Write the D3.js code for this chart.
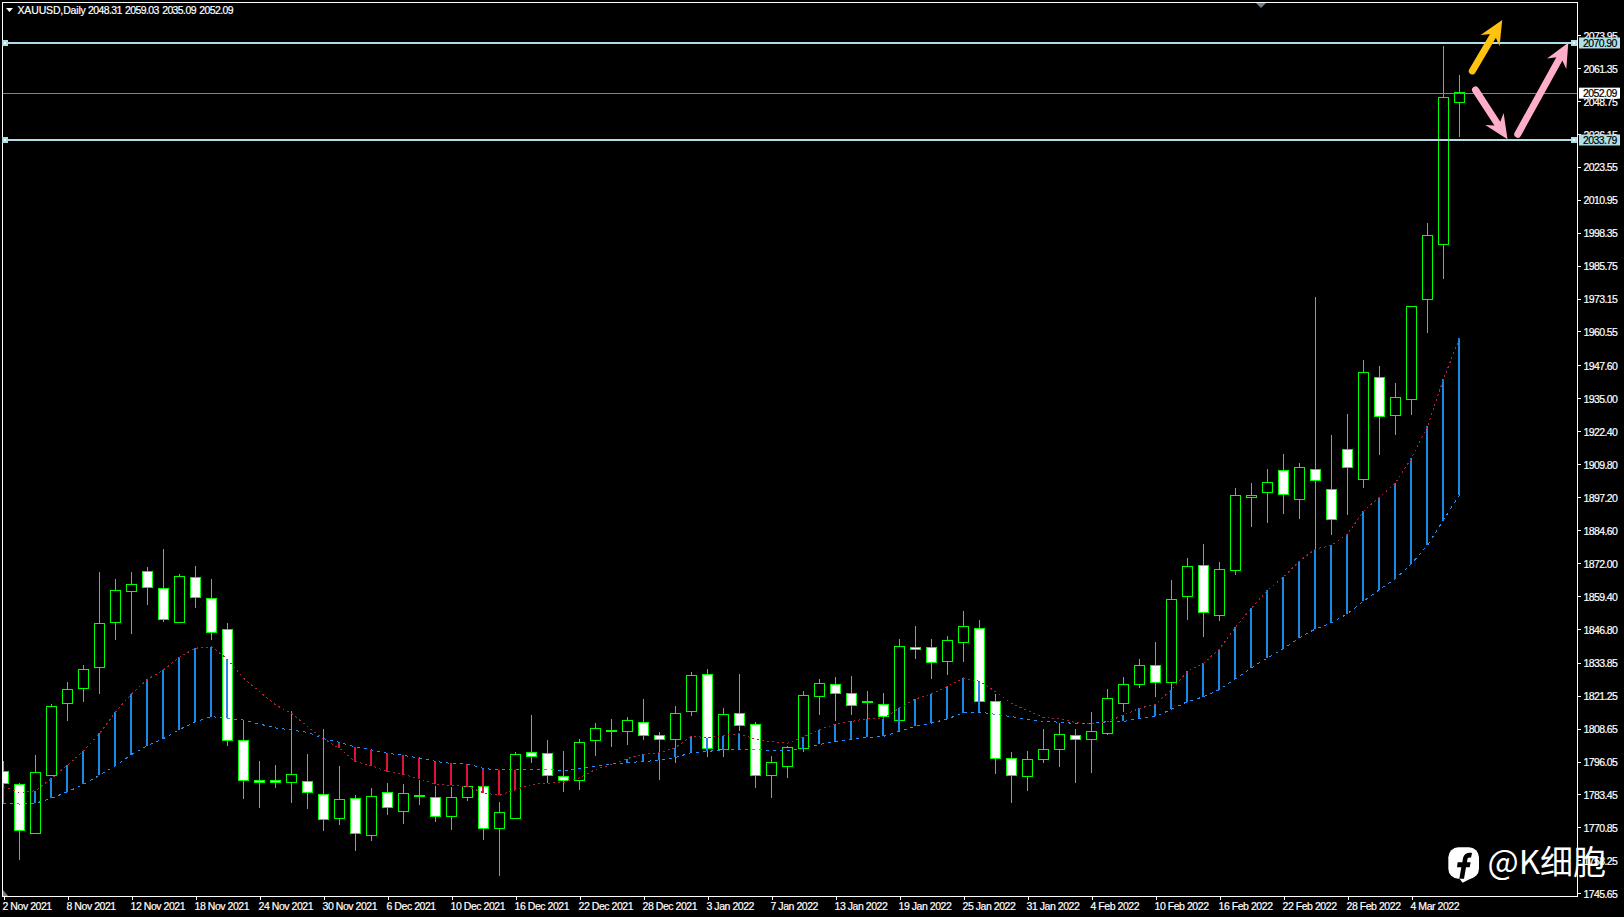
<!DOCTYPE html>
<html>
<head>
<meta charset="utf-8">
<script src="https://cdn.jsdelivr.net/npm/d3@7"></script>
<style>
    html, body { margin: 0; padding: 0; background: #000; }
    svg { display: block; }
    text { font-family: "Liberation Sans", Arial, sans-serif; font-size: 10.5px; letter-spacing: -0.6px; fill: #fff; stroke: #fff; stroke-width: 0.2px; }
</style>
</head>
<body>
<div id="demo"></div>
<script>
const symbolTitle = "XAUUSD,Daily";

// daily candles, one entry per bar
const opens = [1792.2,1787.3,1768.6,1790.8,1818.3,1824.1,1832.1,1849.3,1861.2,1868.8,1862.3,1849.3,1866.5,1858.5,1846.6,1804.2,1788.9,1788.9,1788.0,1788.5,1783.5,1774.3,1782.0,1767.8,1784.3,1777.0,1782.7,1782.3,1774.9,1782.3,1786.4,1770.3,1774.2,1799.5,1799.2,1790.4,1788.7,1804.1,1807.7,1807.6,1811.0,1806.0,1804.5,1815.2,1829.4,1800.7,1814.5,1810.2,1790.7,1794.2,1801.1,1821.0,1825.5,1822.1,1818.8,1817.9,1811.8,1839.7,1839.7,1834.2,1841.5,1847.0,1819.0,1797.3,1790.2,1796.8,1800.6,1806.0,1804.4,1806.7,1818.1,1825.4,1832.8,1826.2,1859.1,1871.1,1851.9,1869.0,1897.0,1899.0,1907.4,1896.2,1907.8,1900.1,1915.4,1903.8,1943.0,1928.3,1934.4,1972.8,1993.8,2048.31];
const highs = [1796.6,1788.1,1798.9,1818.3,1826.5,1833.0,1868.6,1865.9,1868.6,1870.5,1877.4,1868.0,1870.9,1865.9,1849.1,1812.2,1796.5,1795.1,1815.4,1799.3,1808.8,1794.7,1783.3,1786.3,1787.9,1787.8,1789.3,1787.0,1786.4,1787.0,1786.7,1780.9,1799.7,1814.2,1804.3,1800.4,1805.0,1810.8,1812.7,1813.4,1820.3,1807.7,1817.3,1830.3,1831.8,1816.9,1829.9,1811.5,1798.5,1802.3,1823.4,1828.0,1828.4,1829.1,1823.4,1822.6,1843.3,1847.9,1843.3,1844.4,1854.0,1850.2,1822.2,1799.7,1800.1,1808.8,1811.1,1808.8,1815.0,1823.8,1828.7,1835.6,1842.1,1865.5,1874.2,1879.6,1872.7,1901.0,1902.6,1908.3,1914.0,1910.6,1974.1,1921.3,1929.3,1950.0,1947.7,1941.2,1970.6,2002.4,2070.1,2059.03];
const lows = [1785.2,1758.4,1768.6,1790.8,1811.9,1819.0,1822.0,1842.7,1845.0,1856.1,1849.6,1849.3,1854.9,1842.7,1802.1,1781.9,1778.4,1786.1,1780.3,1778.0,1769.6,1771.9,1762.0,1766.0,1775.6,1772.2,1779.5,1773.0,1770.0,1781.3,1766.1,1752.4,1774.2,1795.5,1788.2,1784.7,1785.5,1798.5,1801.7,1802.7,1804.6,1789.0,1795.8,1813.8,1798.1,1798.1,1808.1,1786.3,1782.4,1790.1,1799.7,1814.2,1811.9,1814.2,1812.3,1812.5,1811.8,1835.6,1828.0,1829.5,1834.5,1814.7,1791.6,1780.2,1785.1,1795.5,1794.3,1788.2,1792.0,1806.2,1815.0,1824.5,1821.1,1820.0,1850.5,1844.0,1849.9,1867.4,1886.1,1887.3,1891.1,1889.2,1877.6,1882.7,1890.7,1901.0,1913.3,1921.3,1928.9,1960.3,1980.7,2035.09];
const closes = [1787.7,1769.7,1791.8,1817.0,1823.6,1831.3,1848.9,1861.5,1863.8,1862.6,1850.5,1866.9,1858.9,1845.5,1804.2,1788.9,1788.0,1788.0,1791.2,1784.3,1774.0,1781.6,1768.6,1782.8,1778.5,1783.9,1783.1,1774.9,1782.3,1786.5,1770.3,1776.6,1798.8,1798.0,1790.6,1788.7,1803.4,1808.7,1807.9,1811.8,1806.0,1804.5,1814.5,1829.0,1801.1,1814.1,1809.9,1790.7,1795.7,1801.4,1821.3,1825.9,1822.0,1817.4,1819.2,1813.3,1840.1,1838.8,1833.8,1842.4,1847.7,1818.9,1797.1,1790.6,1796.9,1800.7,1806.4,1804.4,1807.6,1820.2,1825.5,1832.8,1826.2,1858.1,1870.7,1853.1,1869.5,1897.8,1897.8,1902.8,1898.2,1908.5,1903.4,1888.7,1908.4,1944.9,1928.1,1935.3,1970.1,1997.3,2050.1,2052.09];

// the two moving averages
const maFast = [1786.4,1784.2,1784.9,1789.6,1794.7,1800.0,1806.8,1815.0,1821.9,1827.5,1831.1,1836.0,1839.4,1840.0,1835.2,1827.9,1822.8,1817.7,1814.5,1809.4,1804.8,1801.1,1796.0,1794.4,1792.2,1791.0,1789.5,1787.3,1786.9,1786.5,1784.1,1783.1,1785.3,1787.3,1787.7,1788.1,1789.8,1793.0,1794.9,1797.2,1798.8,1799.4,1801.4,1805.8,1805.1,1806.0,1806.7,1804.5,1803.6,1803.0,1805.5,1808.3,1810.4,1811.4,1812.5,1812.5,1816.5,1820.0,1821.9,1824.8,1828.0,1826.7,1822.8,1818.3,1815.5,1812.9,1812.3,1811.0,1810.5,1811.3,1813.8,1816.4,1818.0,1823.6,1830.6,1833.6,1839.1,1847.5,1854.7,1861.6,1866.6,1872.7,1877.3,1878.7,1883.0,1891.8,1897.2,1902.6,1912.1,1924.4,1942.3,1958.0];
const maSlow = [1780.1,1779.8,1780.1,1782.0,1784.5,1787.3,1790.8,1794.5,1798.7,1802.1,1804.8,1808.3,1811.3,1813.2,1812.6,1811.9,1810.4,1808.9,1808.1,1807.2,1804.8,1803.4,1801.6,1800.5,1799.2,1798.4,1797.4,1796.1,1795.3,1795.1,1793.4,1792.8,1793.0,1793.0,1793.0,1792.5,1793.4,1794.2,1795.1,1795.6,1796.1,1796.5,1797.6,1799.5,1799.9,1800.6,1800.6,1800.7,1800.3,1800.3,1801.1,1802.6,1803.7,1804.5,1805.3,1805.7,1807.6,1809.5,1810.7,1812.4,1814.6,1815.0,1814.1,1813.2,1812.3,1811.4,1811.1,1810.6,1810.6,1811.3,1811.4,1812.5,1813.3,1816.0,1819.0,1820.8,1823.6,1827.7,1831.9,1835.7,1839.2,1843.4,1846.8,1849.1,1852.6,1857.4,1861.8,1866.0,1871.7,1878.8,1888.5,1898.0];
// bars where the histogram between the averages is painted
const histBars = [0,2,3,4,5,6,7,8,9,10,11,12,13,14,21,22,23,24,25,26,27,28,29,30,31,32,39,40,41,42,43,44,45,46,50,51,52,53,54,55,56,57,58,59,60,61,70,71,72,73,74,75,76,77,78,79,80,81,82,83,84,85,86,87,88,89,90,91];

const priceTicks = [2073.95,2061.35,2048.75,2036.15,2023.55,2010.95,1998.35,1985.75,1973.15,1960.55,1947.60,1935.00,1922.40,1909.80,1897.20,1884.60,1872.00,1859.40,1846.80,1833.85,1821.25,1808.65,1796.05,1783.45,1770.85,1758.25,1745.65];
const dateTickBars = [0,4,8,12,16,20,24,28,32,36,40,44,48,52,56,60,64,68,72,76,80,84,88];
const dateTickLabels = ["2 Nov 2021","8 Nov 2021","12 Nov 2021","18 Nov 2021","24 Nov 2021","30 Nov 2021","6 Dec 2021","10 Dec 2021","16 Dec 2021","22 Dec 2021","28 Dec 2021","3 Jan 2022","7 Jan 2022","13 Jan 2022","19 Jan 2022","25 Jan 2022","31 Jan 2022","4 Feb 2022","10 Feb 2022","16 Feb 2022","22 Feb 2022","28 Feb 2022","4 Mar 2022"];

const levels = [2070.90, 2033.79];
const lastPrice = 2052.09;

// hand drawn arrows: [bar, price] of tail and tip
const arrows = [
    {color: "#ffc20e", tail: [91.8, 2060.2], tip: [93.67, 2079.7]},
    {color: "#ffaec9", tail: [92.0, 2052.9], tip: [94.0, 2034.1]},
    {color: "#ffaec9", tail: [94.64, 2036.0], tip: [97.8, 2071.0]}
];

const w = 1624, h = 917;
const m = {top: 2.5, right: 1577.5, bottom: 896.5, left: 2.5};

const svg = d3.select("#demo").append("svg").attr("width", w).attr("height", h).style("background", "#000");

// 16px per bar
const x = d3.scaleLinear().domain([0, 91]).range([3.5, 1459.5]);
const y = d3.scaleLinear().domain([1745.65, 2073.95]).range([893.3, 35]);
const snap = v => Math.round(v - 0.5) + 0.5;

svg.append("clipPath").attr("id", "plot").append("rect")
    .attr("x", 3).attr("y", 3).attr("width", m.right - 3).attr("height", m.bottom - 3);

const plot = svg.append("g").attr("clip-path", "url(#plot)").attr("shape-rendering", "crispEdges");

//Candles
const candles = plot.append("g").selectAll("g").data(d3.range(opens.length)).join("g");
candles.append("line")
    .attr("x1", i => x(i)).attr("x2", i => x(i))
    .attr("y1", i => snap(y(highs[i]))).attr("y2", i => snap(y(lows[i])))
    .attr("stroke", "#00ff00");
candles.append("rect")
    .attr("x", i => x(i) - 5).attr("width", 10)
    .attr("y", i => snap(y(Math.max(opens[i], closes[i]))))
    .attr("height", i => snap(y(Math.min(opens[i], closes[i]))) - snap(y(Math.max(opens[i], closes[i]))))
    .attr("fill", i => closes[i] >= opens[i] ? "#000" : "#fff")
    .attr("stroke", "#00ff00");

//Histogram between the averages
plot.append("g").selectAll("line").data(histBars).join("line")
    .attr("x1", i => x(i) - 0.5).attr("x2", i => x(i) - 0.5)
    .attr("y1", i => y(maFast[i])).attr("y2", i => y(maSlow[i]))
    .attr("stroke-width", 2)
    .attr("stroke", i => maFast[i] >= maSlow[i] ? "#1e88e5" : "#dc143c");

const line = d3.line().x((d, i) => x(i)).y(d => y(d));
plot.append("path").attr("d", line(maFast)).attr("fill", "none")
    .attr("stroke", "#b22234").attr("stroke-dasharray", "2 3");
plot.append("path").attr("d", line(maSlow)).attr("fill", "none")
    .attr("stroke", "#1e90ff").attr("stroke-dasharray", "3 4");

//Horizontal levels
plot.selectAll(".level").data(levels).join("line").attr("class", "level")
    .attr("x1", m.left).attr("x2", m.right)
    .attr("y1", d => Math.round(y(d))).attr("y2", d => Math.round(y(d)))
    .attr("stroke", "#b0e0e6").attr("stroke-width", 2);
// the terminal paints the bid line a pixel under the scale
plot.append("line")
    .attr("x1", m.left).attr("x2", m.right)
    .attr("y1", snap(y(lastPrice) + 1)).attr("y2", snap(y(lastPrice) + 1))
    .attr("stroke", "#778899");

//Axes
const yAxis = d3.axisRight(y).tickValues(priceTicks).tickSize(3).tickPadding(3).tickFormat(d3.format(".2f"));
const gy = svg.append("g").attr("transform", "translate(" + m.right + ",0)").call(yAxis);
gy.select(".domain").remove();
gy.selectAll("line").attr("stroke", "#fff").attr("shape-rendering", "crispEdges");
gy.selectAll("text").attr("font-family", null).attr("font-size", null).attr("dy", "0.4em");

const xAxis = d3.axisBottom(x).tickValues(dateTickBars).tickSize(3)
    .tickFormat(d => dateTickLabels[dateTickBars.indexOf(d)]);
const gx = svg.append("g").attr("transform", "translate(0," + m.bottom + ")").call(xAxis);
gx.select(".domain").remove();
gx.selectAll("line").attr("stroke", "#fff").attr("shape-rendering", "crispEdges");
gx.selectAll("text").attr("text-anchor", "start").attr("x", -1.5).attr("y", 6).style("letter-spacing", "-0.45px");

//Frame
svg.append("path")
    .attr("d", d3.line()([[m.left, m.bottom], [m.left, m.top], [m.right, m.top], [m.right, m.bottom], [m.left, m.bottom]]))
    .attr("fill", "none").attr("stroke", "#fff").attr("shape-rendering", "crispEdges");

//Price labels on top of the ticks
const tags = [{v: levels[0], bg: "#b0e0e6", off: 0}, {v: levels[1], bg: "#b0e0e6", off: 0}, {v: lastPrice, bg: "#fff", off: 1}];
const tag = svg.append("g").selectAll("g").data(tags).join("g")
    .attr("transform", d => "translate(1579," + (y(d.v) + d.off) + ")");
tag.append("rect").attr("y", -5.5).attr("width", 41).attr("height", 11).attr("fill", d => d.bg);
tag.append("text").attr("x", 4).attr("dy", "0.37em").style("fill", "#000").style("stroke", "#000").text(d => d.v.toFixed(2));

//Level handles
levels.forEach(d => {
    [[2, 6], [1571, 6]].forEach(p => {
        svg.append("rect").attr("x", p[0]).attr("y", Math.round(y(d)) - 3).attr("width", p[1]).attr("height", 6).attr("fill", "#b0e0e6");
        svg.append("rect").attr("x", p[0] + 2).attr("y", Math.round(y(d)) - 1).attr("width", 2).attr("height", 2).attr("fill", "#fff");
    });
});

//Header
svg.append("path").attr("d", "M6,8 L13,8 L9.5,12 Z").attr("fill", "#fff");
svg.append("text").attr("x", 17.5).attr("y", 14).style("letter-spacing", "-0.15px").text(symbolTitle);
svg.append("text").attr("x", 88).attr("y", 14).style("word-spacing", "1px")
    .text([opens[91], highs[91], lows[91], closes[91]].map(d => d.toFixed(2)).join(" "));

//Chart shift and scale markers
svg.append("path").attr("d", "M1256,3 L1266,3 L1261,8 Z").attr("fill", "#708090");
svg.append("path").attr("d", "M3,890 L3,896 L8,896 Z").attr("fill", "#808080");

//Arrows
arrows.forEach(a => {
    const x0 = x(a.tail[0]), y0 = y(a.tail[1]), x1 = x(a.tip[0]), y1 = y(a.tip[1]);
    const len = Math.hypot(x1 - x0, y1 - y0);
    const ux = (x1 - x0) / len, uy = (y1 - y0) / len;
    const at = (back, side) => [x1 - ux * back - uy * side, y1 - uy * back + ux * side];
    const neck = at(15, 0);
    svg.append("path").attr("d", d3.line()([[x0, y0], neck]))
        .attr("stroke", a.color).attr("stroke-width", 7).attr("stroke-linecap", "round").attr("fill", "none");
    svg.append("path").attr("d", d3.line()([[x1, y1], at(24, 11), at(16, 0), at(24, -11)]) + "Z").attr("fill", a.color);
});

//Watermark
const icon = svg.append("g").attr("transform", "translate(1440,838) scale(0.3333)");
icon.append("rect").attr("x", 25).attr("y", 28).attr("width", 92).attr("height", 94).attr("rx", 30).attr("fill", "#fff");
icon.append("path").attr("d", "M55,118 L68,134 L100,118 Z").attr("fill", "#fff");
icon.append("path").attr("d", "M58,122 L64,88 L51,88 L53,73 L67,73 L69,60 C72,48 82,43 96,45 L93,59 C85,58 83,60 82,65 L81,73 L92,73 L89,88 L78,88 L72,122 Z").attr("fill", "#000");
svg.append("text").attr("x", 1487.5).attr("y", 874)
    .style("font-family", '"Noto Sans CJK SC"').style("font-size", "33px").style("font-weight", 400)
    .style("letter-spacing", "0").style("stroke", "none")
    .text("@K细胞");
</script>
</body>
</html>
